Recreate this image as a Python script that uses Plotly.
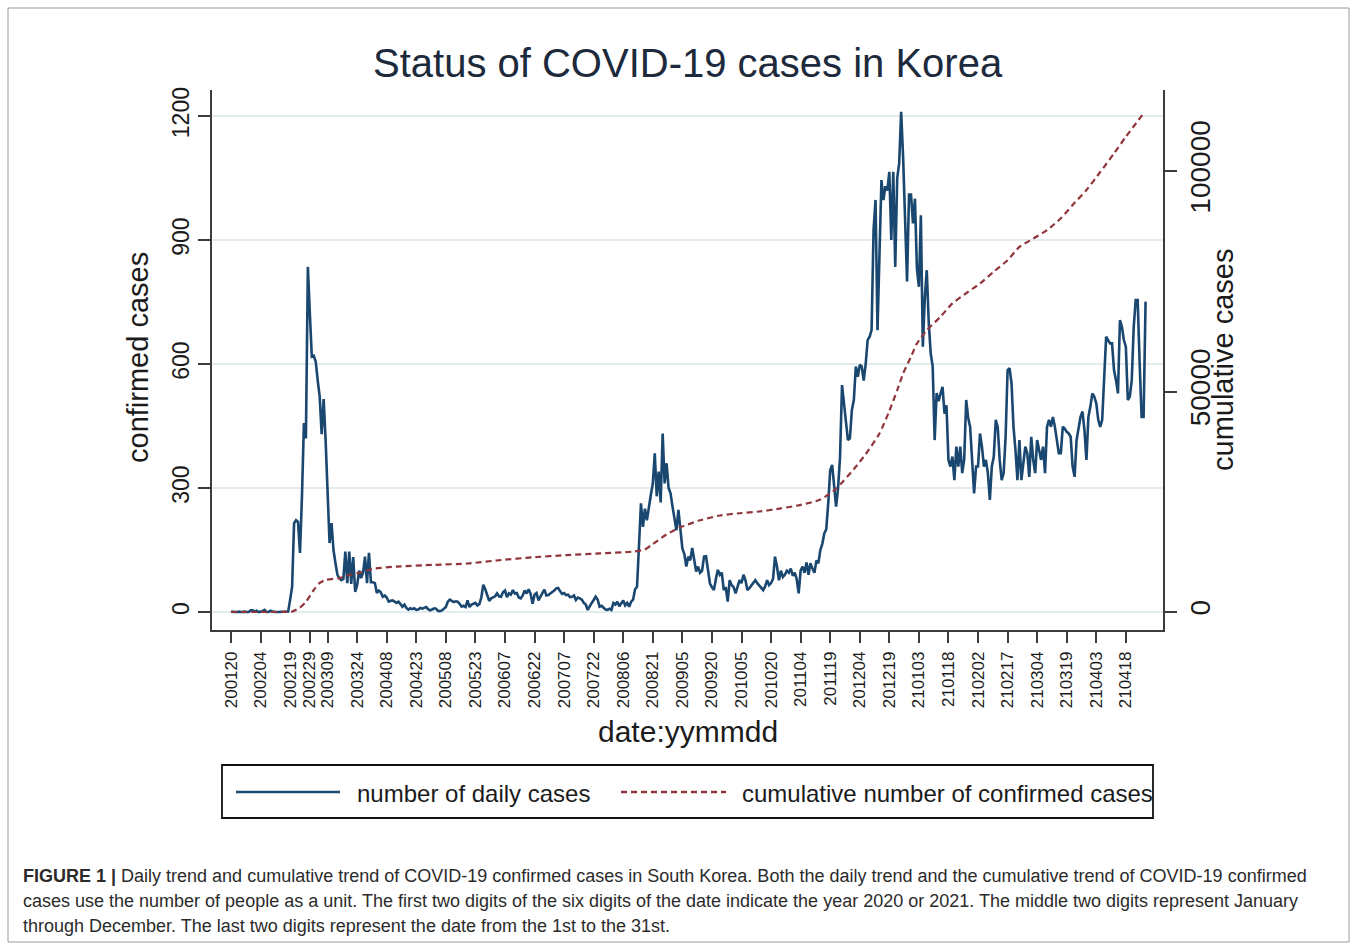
import pandas as pd
import plotly.graph_objects as go

# ---- daily confirmed cases, one list per month (yymm) ----
daily_2001 = [1, 0, 0, 0, 1, 0, 1, 1, 0, 0, 4, 4]  # from 20 Jan
daily_2002 = [1, 3, 0, 1, 2, 5, 0, 0, 3, 1, 0, 0, 0, 0, 0, 1, 0, 1, 30, 60,
              215, 222, 218, 143, 280, 457, 420, 835, 723]
daily_2003 = [618, 620, 605, 560, 521, 430, 515, 416, 295, 167, 215, 150, 118, 90, 82, 77,
              80, 146, 70, 146, 68, 133, 49, 65, 100, 82, 95, 134, 70, 143, 72]
daily_2004 = [72, 70, 46, 52, 48, 37, 40, 35, 25, 27, 28, 25, 22, 25, 20, 13, 18, 10, 6, 9,
              7, 9, 5, 6, 10, 8, 10, 12, 7, 4]
daily_2005 = [6, 9, 8, 3, 2, 4, 8, 12, 25, 30, 27, 24, 26, 25, 20, 13, 15, 12, 28, 12,
              18, 20, 22, 16, 19, 35, 66, 55, 38, 27, 33]
daily_2006 = [35, 38, 45, 38, 37, 48, 52, 36, 45, 42, 53, 45, 46, 35, 33, 40, 52, 45, 55, 44,
              20, 42, 46, 28, 37, 46, 54, 40, 41, 45]
daily_2007 = [48, 52, 57, 58, 50, 44, 46, 41, 42, 36, 37, 40, 29, 35, 33, 30, 22, 18, 5, 15,
              22, 29, 37, 30, 13, 15, 10, 6, 5, 8, 5]
daily_2008 = [22, 18, 25, 14, 20, 28, 16, 22, 13, 25, 30, 55, 61, 154, 263, 206, 250, 222, 259, 283,
              311, 384, 280, 340, 265, 432, 311, 360, 300, 287, 255]
daily_2009 = [231, 198, 247, 191, 154, 140, 110, 134, 125, 155, 125, 98, 110, 95, 100, 134, 135, 98,
              69, 60, 53, 80, 102, 90, 95, 53, 60, 25, 77, 65]
daily_2010 = [60, 45, 62, 77, 70, 90, 77, 53, 58, 65, 72, 77, 70, 65, 60, 53, 62, 77, 65, 70,
              80, 134, 110, 77, 100, 85, 90, 100, 95, 105, 88]
daily_2011 = [95, 80, 45, 100, 110, 95, 120, 90, 118, 105, 95, 125, 118, 150, 165, 190, 200, 263,
              343, 356, 311, 255, 300, 376, 549, 505, 457, 416, 420, 489]
daily_2012 = [513, 594, 569, 598, 594, 560, 600, 658, 666, 682, 924, 997, 682, 850, 1045, 997,
              1030, 1020, 1065, 900, 1065, 835, 1050, 1086, 1210, 1100, 956, 800, 1010, 1010, 940]
daily_2101 = [1000, 830, 787, 960, 642, 760, 827, 700, 626, 594, 416, 530, 510, 529, 545, 480,
              500, 368, 352, 376, 319, 400, 352, 400, 336, 370, 513, 470, 448, 368, 287]
daily_2102 = [352, 352, 432, 400, 352, 368, 336, 271, 352, 376, 465, 448, 368, 319, 336, 424,
              585, 590, 553, 448, 392, 319, 416, 319, 360, 400, 384, 327]
daily_2103 = [424, 368, 336, 416, 392, 368, 400, 336, 448, 465, 448, 472, 448, 416, 384, 384,
              448, 444, 436, 432, 424, 352, 327, 416, 450, 472, 485, 440, 368, 472, 497]
daily_2104 = [529, 521, 505, 465, 448, 465, 553, 666, 658, 650, 650, 585, 561, 529, 706, 690,
              658, 642, 513, 521, 561, 690, 755, 755, 602, 472, 472, 751]  # to 28 Apr

# ---- cumulative confirmed cases at selected dates (yymmdd) ----
cum_dates = ["200120", "200218", "200220", "200224", "200227", "200302", "200305", "200308",
             "200315", "200320", "200326", "200401", "200413", "200502", "200519", "200605",
             "200621", "200708", "200725", "200811", "200817", "200821", "200828", "200904",
             "200914", "200924", "201004", "201014", "201025", "201104", "201114", "201122",
             "201201", "201207", "201214", "201219", "201223", "201226", "201230", "210102",
             "210107", "210114", "210120", "210127", "210203", "210210", "210217", "210223",
             "210302", "210309", "210316", "210322", "210329", "210405", "210412", "210418",
             "210427"]
cum_values = [0, 30, 100, 1000, 2300, 5000, 6600, 7300, 7700, 8400, 9000, 9800, 10300, 10700,
              11000, 11800, 12400, 12900, 13300, 13700, 14200, 15400, 17600, 19200, 20800, 21900,
              22400, 22800, 23500, 24300, 25500, 28000, 32400, 35800, 40500, 45600, 50300, 54100,
              57900, 60900, 63900, 67000, 70000, 72300, 74500, 77200, 79800, 82800, 84700, 86600,
              89300, 92300, 95700, 99800, 104000, 107800, 113100]

# ---- axis ticks ----
tick_labels = ["200120", "200204", "200219", "200229", "200309", "200324", "200408", "200423",
               "200508", "200523", "200607", "200622", "200707", "200722", "200806", "200821",
               "200905", "200920", "201005", "201020", "201104", "201119", "201204", "201219",
               "210103", "210118", "210202", "210217", "210304", "210319", "210403", "210418"]
left_ticks = [0, 300, 600, 900, 1200]
right_ticks = [0, 50000, 100000]

daily = (daily_2001 + daily_2002 + daily_2003 + daily_2004 + daily_2005 + daily_2006 +
         daily_2007 + daily_2008 + daily_2009 + daily_2010 + daily_2011 + daily_2012 +
         daily_2101 + daily_2102 + daily_2103 + daily_2104)
daily_dates = pd.date_range("2020-01-20", periods=len(daily), freq="D")
cum_x = pd.to_datetime(cum_dates, format="%y%m%d")
tick_x = pd.to_datetime(tick_labels, format="%y%m%d")

# ---- page geometry (pixels) ----
FIG_W, FIG_H = 1357, 947
PL, PR, PT, PB = 212, 1163, 90, 630
W, H = PR - PL, PB - PT

def fx(px):
    return (px - PL) / W

def fy(py):
    return (PB - py) / H

NAVY = "#1a476f"
MAROON = "#90353b"
FONT = "Liberation Sans, Arial, sans-serif"
INK = "#1b1b1b"
AXIS = "#3c3c3c"

fig = go.Figure()
fig.add_trace(go.Scatter(x=daily_dates, y=daily, mode="lines",
                         line=dict(color=NAVY, width=2.6), name="number of daily cases",
                         showlegend=False))
fig.add_trace(go.Scatter(x=cum_x, y=cum_values, mode="lines", yaxis="y2",
                         line=dict(color=MAROON, width=2.2, dash="6px,4px", shape="spline",
                                   smoothing=0.6),
                         name="cumulative number of confirmed cases", showlegend=False))

fig.update_layout(
    width=FIG_W, height=FIG_H,
    margin=dict(l=PL, r=FIG_W - PR, t=PT, b=FIG_H - PB, pad=0),
    paper_bgcolor="white", plot_bgcolor="white",
    font=dict(family=FONT, color=INK),
    xaxis=dict(type="date", range=["2020-01-10 08:38", "2021-05-06 20:24"],
               tickvals=tick_x, ticktext=tick_labels, tickangle=-90,
               tickfont=dict(size=17, color=INK), ticks="outside", ticklen=11,
               tickwidth=1.5, tickcolor=AXIS, showline=True, linecolor=AXIS,
               linewidth=1.5, showgrid=False, zeroline=False, ticklabelstandoff=2),
    yaxis=dict(range=[-43.5, 1263], tickvals=left_ticks, tickangle=-90,
               tickfont=dict(size=23, color=INK), ticks="outside", ticklen=12,
               tickwidth=1.5, tickcolor=AXIS, showline=True, linecolor=AXIS,
               linewidth=1.5, showgrid=True, gridcolor="#e2ebee", gridwidth=2,
               zeroline=False, ticklabelstandoff=0),
    yaxis2=dict(range=[-4080, 118400], tickvals=right_ticks,
                ticktext=[str(v) for v in right_ticks], overlaying="y", side="right",
                tickangle=-90, tickfont=dict(size=28, color=INK), ticks="outside",
                ticklen=12, tickwidth=1.5, tickcolor=AXIS, showline=True,
                linecolor=AXIS, linewidth=1.5, showgrid=False, zeroline=False,
                ticklabelstandoff=0),
    showlegend=False,
)

ann = []
ann.append(dict(text="Status of COVID-19 cases in Korea", x=0.5, y=fy(63),
                font=dict(size=40, color="#1c2a3c")))
ann.append(dict(text="confirmed cases", x=fx(138), y=fy(358), textangle=-90,
                font=dict(size=29, color=INK)))
ann.append(dict(text="cumulative cases", x=fx(1223), y=fy(360), textangle=-90,
                font=dict(size=29, color=INK)))
ann.append(dict(text="date:yymmdd", x=0.5, y=fy(731), font=dict(size=30, color=INK)))
ann.append(dict(text="number of daily cases", x=fx(355), y=fy(793), xanchor="left",
                font=dict(size=24, color=INK)))
ann.append(dict(text="cumulative number of confirmed cases", x=fx(740), y=fy(793),
                xanchor="left", font=dict(size=24, color=INK)))
caption = [
    "<b>FIGURE 1 |</b> Daily trend and cumulative trend of COVID-19 confirmed cases in South Korea. "
    "Both the daily trend and the cumulative trend of COVID-19 confirmed",
    "cases use the number of people as a unit. The first two digits of the six digits of the date "
    "indicate the year 2020 or 2021. The middle two digits represent January",
    "through December. The last two digits represent the date from the 1st to the 31st.",
]
for i, line in enumerate(caption):
    ann.append(dict(text=line, x=fx(21), y=fy(876 + 25 * i), xanchor="left",
                    font=dict(size=18, color="#2b2b2b")))
for a in ann:
    a.setdefault("xanchor", "center")
    a.update(xref="paper", yref="paper", yanchor="middle", showarrow=False)
fig.update_layout(annotations=ann)

shapes = [
    # outer frame
    dict(type="rect", x0=fx(8), x1=fx(1349), y0=fy(942), y1=fy(8),
         line=dict(color="#9a9a9a", width=1)),
    # legend box and keys
    dict(type="rect", x0=fx(222), x1=fx(1153), y0=fy(818), y1=fy(765),
         line=dict(color="#111111", width=1.8)),
    dict(type="line", x0=fx(236), x1=fx(340), y0=fy(792), y1=fy(792),
         line=dict(color=NAVY, width=2.6)),
    dict(type="line", x0=fx(621), x1=fx(726), y0=fy(792), y1=fy(792),
         line=dict(color=MAROON, width=2.6, dash="6px,4px")),
]
for s in shapes:
    s.update(xref="paper", yref="paper", layer="above")
fig.update_layout(shapes=shapes)

fig.write_html("out.html")
